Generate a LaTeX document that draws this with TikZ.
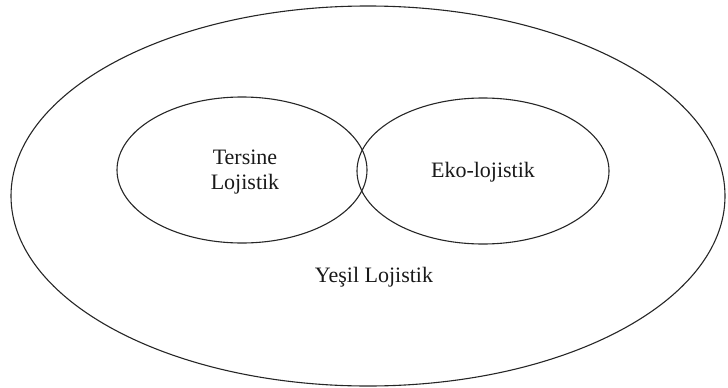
\documentclass[tikz,border=0pt]{standalone}
\usepackage{fontspec}
\newfontfamily\setface{Liberation Serif}
\begin{document}
\begin{tikzpicture}[x=1pt,y=-1pt,
  ring/.style={draw=black!85,line width=1.1pt},
  settext/.style={font=\setface\fontsize{22}{25}\selectfont,align=center,text=black!90}]
\useasboundingbox (0,0) rectangle (728,388);
% outer set
\draw[ring] (368,196) ellipse [x radius=357, y radius=190];
% two inner sets meeting in the middle
\draw[ring] (242,170) ellipse [x radius=125, y radius=73];
\draw[ring] (483,171) ellipse [x radius=126, y radius=73];
\node[settext] (tersine) at (245,172) {Tersine\\Lojistik};
\node[settext] (eko) at (483,172) {Eko-lojistik};
\node[settext] (yesil) at (374,277) {Yeşil Lojistik};
\end{tikzpicture}
\end{document}
